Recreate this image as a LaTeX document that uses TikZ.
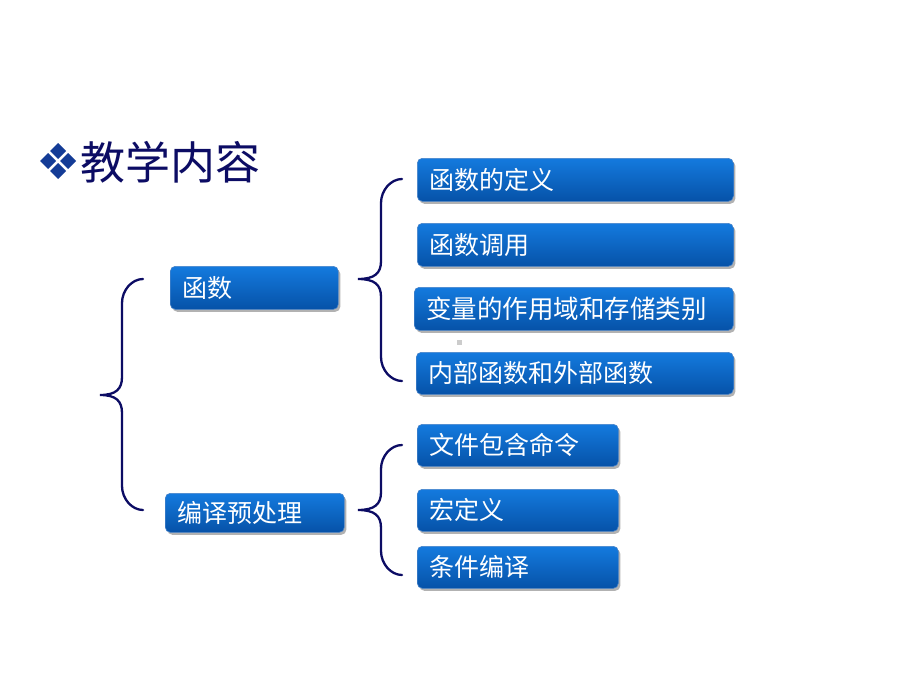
\documentclass[tikz,border=0pt]{standalone}
\usepackage{fontspec}
\newfontfamily\cjk{Noto Sans CJK SC}
\usetikzlibrary{shadows}
\definecolor{navy}{RGB}{12,12,100}
\definecolor{bullet}{RGB}{20,60,150}
\definecolor{boxtop}{RGB}{20,122,222}
\definecolor{boxbot}{RGB}{6,82,168}
\definecolor{boxedge}{RGB}{70,130,200}
\tikzset{
  box/.style={rectangle, rounded corners=5pt, draw=boxedge, line width=0.6pt,
    top color=boxtop, bottom color=boxbot, anchor=north west,
    inner xsep=12pt, inner ysep=0pt, align=left, text=white,
    font=\cjk\fontsize{25}{29}\selectfont,
    drop shadow={shadow xshift=2pt, shadow yshift=-2.5pt, fill=black, opacity=0.3}},
  brace/.style={draw=navy, line width=2.3pt, line cap=round},
}
\newcommand{\mkbox}[6]{% name, x, y, w, h, text
  \node[box, minimum width=#4pt, minimum height=#5pt, text width=#4pt-24pt] (#1) at (#2,#3) {#6};}
\newcommand{\mybrace}[6]{% xe xv xt yt ym yb
  \draw[brace] (#1,#4) .. controls (#1-11,#4) and (#2,#4+11) .. (#2,#4+24)
    -- (#2,#5-18) .. controls (#2,#5-6) and (#2-6,#5) .. (#3,#5)
    .. controls (#2-6,#5) and (#2,#5+6) .. (#2,#5+18)
    -- (#2,#6-24) .. controls (#2,#6-11) and (#1-11,#6) .. (#1,#6);}
\begin{document}
\begin{tikzpicture}[x=1pt,y=-1pt]
\useasboundingbox[fill=white] (0,0) rectangle (920,690);
% title bullet
\foreach \cx/\cy in {58/151, 48/161, 68/161, 58/171}{
  \fill[bullet] (\cx,\cy-8) -- (\cx+8,\cy) -- (\cx,\cy+8) -- (\cx-8,\cy) -- cycle;}
\node[anchor=west, text=navy, font=\cjk\fontsize{45}{50}\selectfont, inner sep=0pt] (title) at (80,162) {教学内容};
% boxes
\mkbox{fn}{170}{266}{168}{43}{函数}
\mkbox{pre}{165}{493}{179}{39}{编译预处理}
\mkbox{a}{417}{158}{316}{43}{函数的定义}
\mkbox{b}{417}{223}{316}{43}{函数调用}
\node[box, minimum width=319pt, minimum height=43pt, text width=319pt-24pt, inner xsep=11pt, font=\cjk\fontsize{25.5}{30}\selectfont] (c) at (414,287) {变量的作用域和存储类别};
\mkbox{d}{416}{352}{317}{42}{内部函数和外部函数}
\mkbox{e}{417}{424}{201}{42}{文件包含命令}
\mkbox{f}{417}{489}{201}{42}{宏定义}
\mkbox{g}{417}{546}{201}{42}{条件编译}
% braces
\mybrace{143}{122}{100}{279}{395}{510}
\mybrace{402}{381}{358}{179}{279}{381}
\mybrace{402}{381}{358}{445}{510}{575}
% small artifact
\fill[gray!40] (457,340) rectangle (462,345);
\end{tikzpicture}
\end{document}
